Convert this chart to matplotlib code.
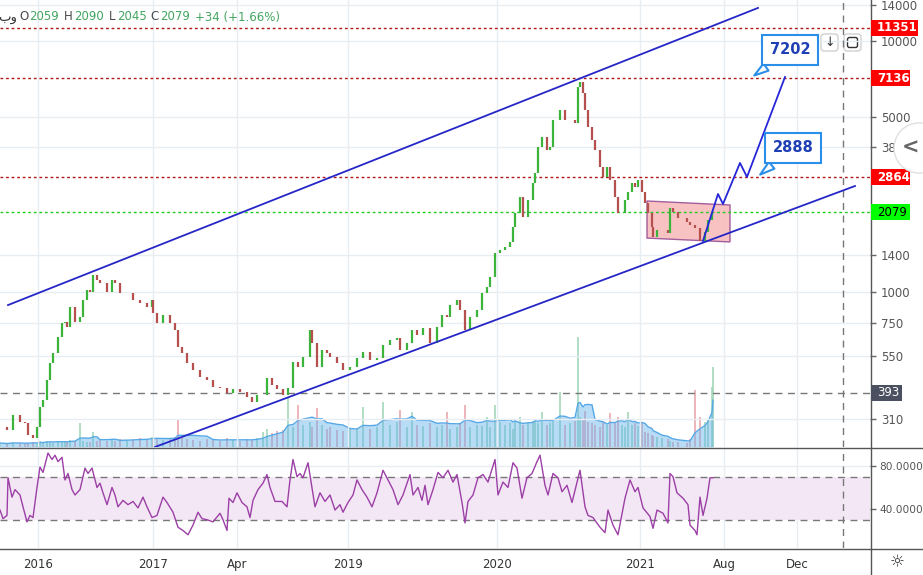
import numpy as np
import pandas as pd
import matplotlib
matplotlib.use('Agg')
import matplotlib.pyplot as plt
from matplotlib.patches import Rectangle, Polygon, Circle, FancyBboxPatch
from matplotlib.transforms import IdentityTransform
from matplotlib.lines import Line2D

W, H = 923, 575

# ---- price data (bar slot on the time axis, close) ----
bars = [0, 7, 13, 20, 25, 28, 33, 37, 40, 43, 47, 50, 53, 58, 62, 65, 67, 70, 75, 80, 83, 87, 90, 93, 97, 100,
        107, 112, 115, 120, 127, 133, 140, 147, 152, 153, 157, 163, 170, 175, 178, 182, 187, 193, 200, 207,
        213, 220, 227, 233, 240, 247, 252, 257,
        263, 267, 272, 277, 283, 288, 293, 298, 303, 310,
        312, 317, 322, 327, 330, 337, 343, 350, 357, 363, 370, 377, 383, 390, 397, 400,
        407, 412, 417, 423, 430, 437, 442, 447, 450, 457, 460, 465, 470, 477,
        482, 487, 490, 495, 500, 505, 510, 513, 515, 520, 523, 528, 533, 535, 538, 542, 547,
        550, 553, 560, 565, 570, 575, 578, 580, 583, 585, 588, 592, 595, 600, 603, 607, 610,
        615, 618, 622, 625, 628, 632, 635, 638, 642, 645, 648, 652, 653, 657, 662, 668,
        670, 673, 678, 687, 690, 695, 700, 705, 708, 712, 713]
close = [287, 279, 320, 300, 297, 266, 259, 287, 345, 368, 443, 517, 567, 657, 748, 755, 720, 867, 755, 790,
         925, 1014, 994, 1164, 1112, 1082,
         994, 1112, 1082, 985, 985, 925, 900, 867, 925, 820, 748, 805, 748, 701, 600, 567, 517, 486, 455, 443,
         415, 411, 394, 406, 398, 380, 361, 387,
         387, 451, 423, 406, 387, 411, 522, 499, 547, 701,
         622, 499, 583, 567, 547, 517, 486, 499, 542, 573, 532, 542, 611, 640, 653, 583,
         622, 701, 670, 714, 622, 720, 805, 790, 883, 925, 843, 701, 790, 843,
         985, 1042, 1143, 1426, 1466, 1507, 1579, 1811, 2062, 2390, 1986, 2323, 2716, 2980, 3787, 4147, 3681,
         3787, 4848, 5321, 4848, 4848, 4720, 6573, 6887, 6222, 5321, 4550, 4037, 3681, 3151, 2871, 3151, 2793,
         2390, 2062, 2062, 2323, 2503, 2716, 2620, 2793, 2503, 2260, 2062, 1811, 1651, 1762, 1762, 1714,
         2158, 2080, 1970, 1900, 1846, 1795, 1595, 1730, 1936, 2062, 2079]
volume = [4, 3, 5, 4, 3, 4, 5, 4, 6, 5, 6, 5, 4, 6, 5, 6, 5, 7, 6, 24, 6, 5, 5, 15, 6, 7,
          6, 7, 6, 8, 7, 8, 9, 8, 10, 9, 8, 7, 9, 10, 27, 9, 8, 7, 6, 8, 7, 6, 9, 7, 6, 8, 7, 9,
          15, 18, 14, 16, 17, 50, 20, 42, 22, 25,
          20, 39, 22, 18, 20, 17, 16, 18, 19, 40, 18, 20, 45, 22, 25, 37,
          20, 35, 22, 21, 24, 20, 22, 35, 18, 20, 24, 42, 20, 22,
          21, 30, 20, 42, 25, 22, 24, 18, 26, 30, 22, 25, 26, 28, 24, 35, 22,
          24, 26, 55, 22, 24, 26, 110, 30, 28, 36, 25, 24, 22, 20, 25, 22, 34,
          24, 30, 22, 20, 35, 22, 24, 21, 25, 15, 14, 12, 11, 10, 9, 8,
          6, 5, 5, 4, 8, 57, 30, 25, 28, 60, 80]

# ---- RSI ----
rsi_bar = [0, 3, 7, 8, 12, 15, 20, 23, 27, 30, 33, 37, 40, 43, 48, 52, 55, 58, 62, 65, 68, 72, 75, 80, 85, 88,
           92, 97, 100, 103, 107, 112, 115, 118, 123, 128, 133, 138, 143, 147, 152, 157, 163, 167, 173, 178,
           183, 188, 193, 198, 202, 207, 213, 220, 223, 227, 229, 233, 237, 242, 247, 250, 253, 258, 263, 267,
           270, 275, 282, 287, 290, 293, 297, 300, 303, 308, 315, 320, 325, 330, 335, 340, 343, 348, 353, 357,
           362, 367, 372, 377, 383, 388, 393, 398, 403, 410, 413, 418, 422, 425, 428, 433, 438, 443, 448, 453,
           457, 462, 465, 468, 473, 478, 483, 488, 495, 498, 503, 508, 513, 517, 522, 527, 532, 537, 540, 545,
           548, 553, 558, 562, 567, 572, 577, 580, 585, 588, 593, 600, 605, 608, 613, 618, 625, 630, 635, 638,
           643, 650, 653, 657, 663, 668, 670, 673, 677, 683, 688, 690, 695, 697, 700, 703, 707, 710, 713]
rsi_val = [39, 31, 34, 69, 51, 58, 53, 42, 28, 34, 32, 60, 79, 74, 92, 86, 90, 84, 88, 67, 73, 58, 53, 58, 78, 73,
           78, 60, 64, 55, 44, 60, 53, 42, 48, 44, 47, 41, 51, 42, 32, 34, 51, 46, 37, 23,
           20, 16, 25, 37, 31, 30, 28, 36, 30, 20, 50, 46, 55, 46, 42, 32, 48, 58, 64, 72,
           60, 47, 47, 42, 67, 86, 70, 73, 69, 83, 42, 55, 47, 53, 39, 44, 37, 46, 53, 67,
           58, 51, 42, 55, 76, 67, 58, 44, 53, 72, 53, 60, 48, 62, 44, 58, 74, 69, 76, 65,
           72, 46, 27, 47, 53, 69, 72, 65, 86, 53, 65, 60, 83, 78, 50, 69, 73, 84, 90, 62,
           53, 73, 69, 56, 62, 46, 65, 76, 42, 34, 32, 23, 18, 39, 25, 16, 50, 67, 56, 60,
           41, 33, 22, 39, 36, 27, 73, 70, 55, 50, 44, 25, 20, 16, 51, 34, 50, 69, 69]

# ---- drawings ----
red_levels = [11351, 7136, 2864]
green_level = 2079
gray_level = 393
upper_bar, upper_price = [8, 758], [883, 13620]
lower_bar, lower_price = [155, 855], [239, 2643]
proj_bar = [703, 718, 723, 740, 747, 785]
proj_price = [1595, 2456, 2240, 3268, 2871, 7212]
rect_bar = [647, 730, 730, 647]
rect_price = [2302, 2219, 1579, 1636]

price_ticks = [310, 550, 750, 1000, 1400, 3800, 5000, 10000, 14000]
time_ticks = [38, 153, 237, 348, 497, 640, 724, 797]
time_labels = ['2016', '2017', 'Apr', '2019', '2020', '2021', 'Aug', 'Dec']

UP, DOWN = '#3cb43c', '#b5504f'
GRID = '#e8edf2'
TXT = '#555555'

fig = plt.figure(figsize=(W / 100, H / 100), dpi=100)
fig.patch.set_facecolor('white')
ax = fig.add_axes([0, 1 - 447 / H, 870 / W, 447 / H])
axr = fig.add_axes([0, 27 / H, 870 / W, 100 / H])

# volume overlay (twinx first, it resets the tick side of ax)
axv = ax.twinx()
axv.set_ylim(0, 447)
axv.axis('off')
ax.set_zorder(2)
ax.patch.set_visible(False)
axv.set_zorder(1)

# price panel
ax.set_yscale('log')
ax.set_xlim(0, 870)
axv.set_xlim(0, 870)
ax.set_ylim(239, 14650)
ax.set_yticks(price_ticks)
ax.set_yticklabels([str(t) for t in price_ticks])
ax.yaxis.set_minor_locator(matplotlib.ticker.NullLocator())
ax.yaxis.tick_right()
ax.tick_params(axis='y', which='both', left=False, labelleft=False, right=True, labelright=True,
               length=4, width=1, color='#666', pad=4, labelsize=8.5, labelcolor=TXT)
ax.set_xticks(time_ticks)
ax.tick_params(axis='x', length=0, labelbottom=False)
ax.grid(True, color=GRID, lw=1)
ax.set_axisbelow(True)
for s in ax.spines.values():
    s.set_visible(False)

opens = [close[0]] + close[:-1]
up = [c >= o for o, c in zip(opens, close)]
vcol = ['#9fd6b8' if u else '#e9a3ab' for u in up]
axv.bar(bars, volume, width=1.4, color=vcol, alpha=0.8, lw=0)
vol_ma = pd.Series(volume).rolling(6, min_periods=1).mean()
axv.fill_between(bars, 0, vol_ma, color='#62b3ec', alpha=0.45, lw=0)
axv.plot(bars, vol_ma, color='#55a8e6', lw=1)

# rectangle
ax.add_patch(Polygon(list(zip(rect_bar, rect_price)), closed=True, fc='#f8bcbc', ec='#9a4f96',
                     lw=1, alpha=0.9, zorder=1))

# candles
lo = np.minimum(opens, close)
hi = np.maximum(opens, close)
ax.vlines(bars, lo, hi, colors=[UP if u else DOWN for u in up], lw=1.6, zorder=3)

# levels
for lv in red_levels:
    ax.axhline(lv, color='#b01818', lw=1, ls=(0, (2, 2)), zorder=2)
ax.axhline(green_level, color='#1fcc1f', lw=1, ls=(0, (2, 2)), zorder=2)
ax.axhline(gray_level, color='#777777', lw=1, ls=(0, (5, 4)), zorder=2)
ax.axvline(843, color='#777777', lw=1, ls=(0, (5, 4)), zorder=2)

# channel and projection
ax.plot(upper_bar, upper_price, color='#2626c8', lw=1.3, zorder=4)
ax.plot(lower_bar, lower_price, color='#2626c8', lw=1.3, zorder=4)
ax.plot(proj_bar, proj_price, color='#2626d8', lw=1.3, zorder=4)

for txt, xy, xyt in [('7202', (752, 7202), (790, 9250)), ('2888', (758, 2888), (793, 3750))]:
    ax.annotate(txt, xy=xy, xytext=xyt, ha='center', va='center', fontsize=10.5, fontweight='bold',
                color='#1f3fb5', zorder=6,
                bbox=dict(boxstyle='square,pad=0.5', fc='white', ec='#2b8ee8', lw=1.5),
                arrowprops=dict(arrowstyle='wedge,tail_width=0.6,shrink_factor=0.5', fc='white',
                                ec='#2b8ee8', lw=1.5))

# RSI panel
axr.set_xlim(0, 870)
axr.set_ylim(3.7, 96.7)
axr.axhspan(30, 70, color='#f3e7f5', lw=0)
axr.axhline(70, color='#787878', lw=1, ls=(0, (5, 4)))
axr.axhline(30, color='#787878', lw=1, ls=(0, (5, 4)))
axr.axvline(843, color='#777777', lw=1, ls=(0, (5, 4)))
axr.plot(rsi_bar, rsi_val, color='#9c3fa6', lw=1)
axr.set_yticks([40, 80])
axr.set_yticklabels(['40.0000', '80.0000'])
axr.yaxis.tick_right()
axr.tick_params(axis='y', length=4, width=1, color='#666', pad=3, labelsize=7.6, labelcolor=TXT)
axr.set_xticks(time_ticks)
axr.set_xticklabels(time_labels)
axr.tick_params(axis='x', length=0, pad=7, labelsize=8.5, labelcolor='#333333')
axr.grid(True, color=GRID, lw=1)
axr.set_axisbelow(True)
for s in axr.spines.values():
    s.set_visible(False)

# frame lines
ident = IdentityTransform()
for seg in [([0, W], [H - 447.5, H - 447.5]), ([0, W], [H - 548.5, H - 548.5]), ([870.5, 870.5], [0, H])]:
    fig.add_artist(Line2D(seg[0], seg[1], transform=ident, color='#555555', lw=1))


# right axis level labels
def ypx(p):
    return ax.transData.transform((0, p))[1]


for val, fc, tc, bold in [(11351, '#ff0000', 'white', True), (7136, '#ff0000', 'white', True),
                          (2864, '#ff0000', 'white', True), (2079, '#00ff00', 'black', False),
                          (393, '#4b5060', 'white', False)]:
    y = ypx(val)
    w = 7 + 8 * len(str(val))
    fig.add_artist(Rectangle((871, y - 8), w, 16, transform=ident, fc=fc, ec='none', zorder=5))
    fig.text(877, y, str(val), transform=ident, ha='left', va='center', fontsize=8.5, color=tc,
             fontweight='bold' if bold else 'normal', zorder=6)

# header
fig.text(-2, H - 17, 'بو', transform=ident, ha='left', va='center', fontsize=9.5, color='#333')
for x, s, c in [(19, 'O', '#4a4a4a'), (29, '2059', '#43a560'), (64, 'H', '#4a4a4a'), (74, '2090', '#43a560'),
                (109, 'L', '#4a4a4a'), (117, '2045', '#43a560'), (150, 'C', '#4a4a4a'),
                (160, '2079', '#43a560'), (195, '+34 (+1.66%)', '#43a560')]:
    fig.text(x, H - 17, s, transform=ident, ha='left', va='center', fontsize=8.5, color=c)

# small widgets
for x0 in [821, 844]:
    fig.add_artist(FancyBboxPatch((x0, H - 51), 17, 17, boxstyle='round,pad=0,rounding_size=3',
                                  transform=ident, fc='white', ec='#d0d0d0', lw=1))
fig.text(829.5, H - 42.5, '↓', transform=ident, ha='center', va='center', fontsize=9, color='#333')
fig.add_artist(FancyBboxPatch((847.5, H - 47.5), 10, 10, boxstyle='round,pad=0,rounding_size=2',
                              transform=ident, fc='white', ec='#333', lw=1))
fig.add_artist(Circle((919, H - 148), 25, transform=ident, fc='white', ec='#e0e0e0', lw=1, zorder=7))
fig.text(911, H - 148, '<', transform=ident, ha='center', va='center', fontsize=15, color='#666',
         fontweight='bold', zorder=8)
fig.text(897, H - 562, '☼', transform=ident, ha='center', va='center', fontsize=12, color='#333')

fig.savefig('out.png', dpi=100, facecolor='white')
